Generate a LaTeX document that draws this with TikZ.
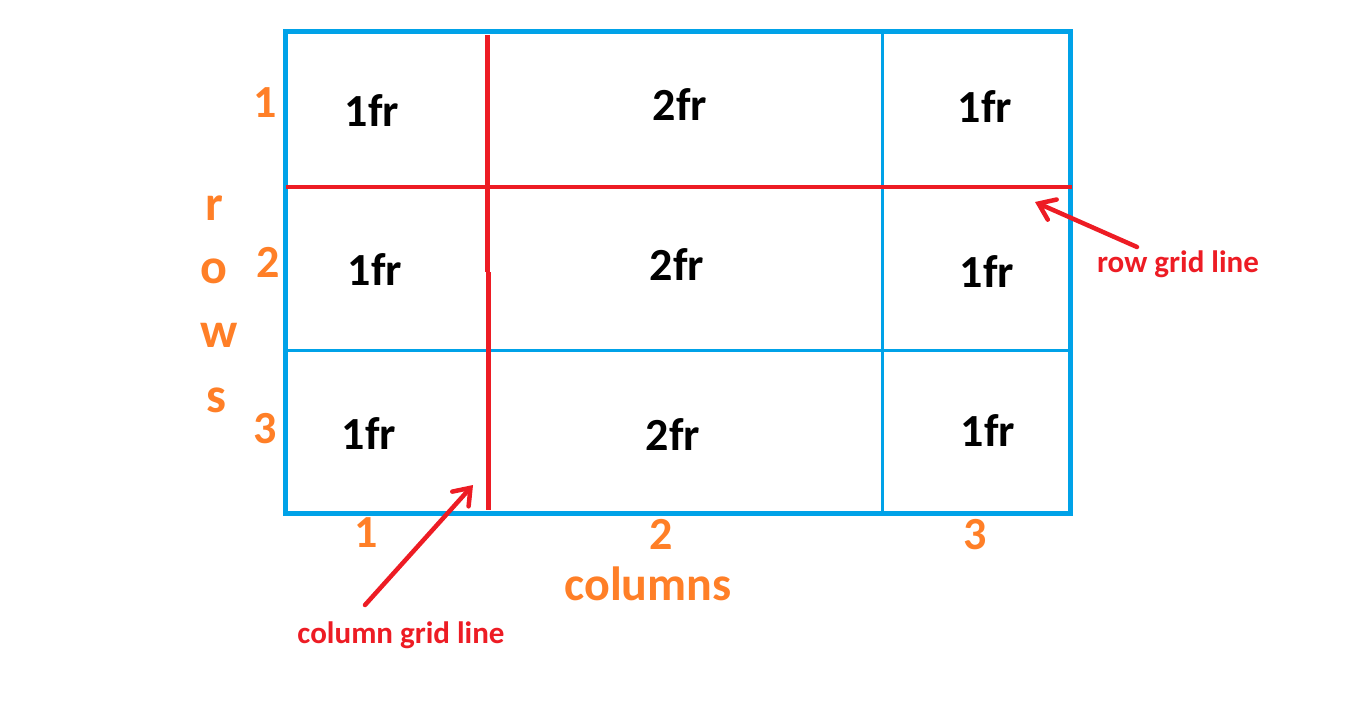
\documentclass[tikz,border=0pt]{standalone}
\usepackage{fontspec}
\setmainfont{Carlito}
\usetikzlibrary{arrows.meta}
\definecolor{pblue}{HTML}{00A2E8}
\definecolor{pred}{HTML}{ED1C24}
\definecolor{porange}{HTML}{FF7F27}
\begin{document}
\begin{tikzpicture}[x=1pt,y=-1pt,
  celltext/.style={anchor=base,inner sep=0pt,font=\bfseries\fontsize{46}{50}\selectfont,text=black},
  numtext/.style={anchor=base,inner sep=0pt,font=\bfseries\fontsize{46}{50}\selectfont,text=porange},
  rowletter/.style={anchor=base,inner sep=0pt,font=\bfseries\fontsize{50}{54}\selectfont,text=porange},
  redlabel/.style={anchor=base,inner sep=0pt,font=\bfseries\fontsize{31}{34}\selectfont,text=pred},
  outerline/.style={draw=pblue,line width=5pt},
  innerline/.style={draw=pblue,line width=3pt},
  gridline/.style={draw=pred,line width=4.5pt},
  pointer/.style={draw=pred,line width=4.5pt,line cap=round,-{Straight Barb[length=15pt,width=22pt,line cap=round]}}
]
\useasboundingbox (0,0) rectangle (1346,722);
% inner thin blue lines
\draw[innerline] (882.5,31.5) -- (882.5,513);
\draw[innerline] (285,350.5) -- (1070.5,350.5);
% outer frame
\draw[outerline] (285,31.5) rectangle (1070.5,513);
% red grid lines
\draw[gridline] (286,187) -- (1072,187);
\draw[gridline] (487.5,35) -- (487.5,272);
\draw[gridline] (488.5,272) -- (488.5,510);
% cell texts
\node[celltext] (c11) at (372,127) {1fr};
\node[celltext] (c12) at (680,121) {2fr};
\node[celltext] (c13) at (985,123) {1fr};
\node[celltext] (c21) at (375,285) {1fr};
\node[celltext] (c22) at (677,280) {2fr};
\node[celltext] (c23) at (987,287) {1fr};
\node[celltext] (c31) at (369,449) {1fr};
\node[celltext] (c32) at (673,450) {2fr};
\node[celltext] (c33) at (988,446) {1fr};
% row numbers
\node[numtext] (r1) at (265,118) {1};
\node[numtext] (r2) at (268,277) {2};
\node[numtext] (r3) at (265,443) {3};
% rows word
\node[rowletter] (lr) at (214,220) {r};
\node[rowletter] (lo) at (214,283) {o};
\node[rowletter] (lw) at (219,347) {w};
\node[rowletter] (ls) at (216,412) {s};
% column numbers
\node[numtext] (k1) at (366,547) {1};
\node[numtext] (k2) at (661,549) {2};
\node[numtext] (k3) at (975,549) {3};
\node[numtext,font=\bfseries\fontsize{48}{52}\selectfont] (cols) at (648,600) {columns};
% red labels
\node[redlabel] (rgl) at (1178,272) {row grid line};
\node[redlabel] (cgl) at (401,643) {column grid line};
% pointers
\coordinate (rglstart) at (1137,247);
\coordinate (rgltip) at (1035,202);
\coordinate (cglstart) at (365,605);
\coordinate (cgltip) at (473,485);
\draw[pointer] (rglstart) -- (rgltip);
\draw[pointer] (cglstart) -- (cgltip);
\end{tikzpicture}
\end{document}
